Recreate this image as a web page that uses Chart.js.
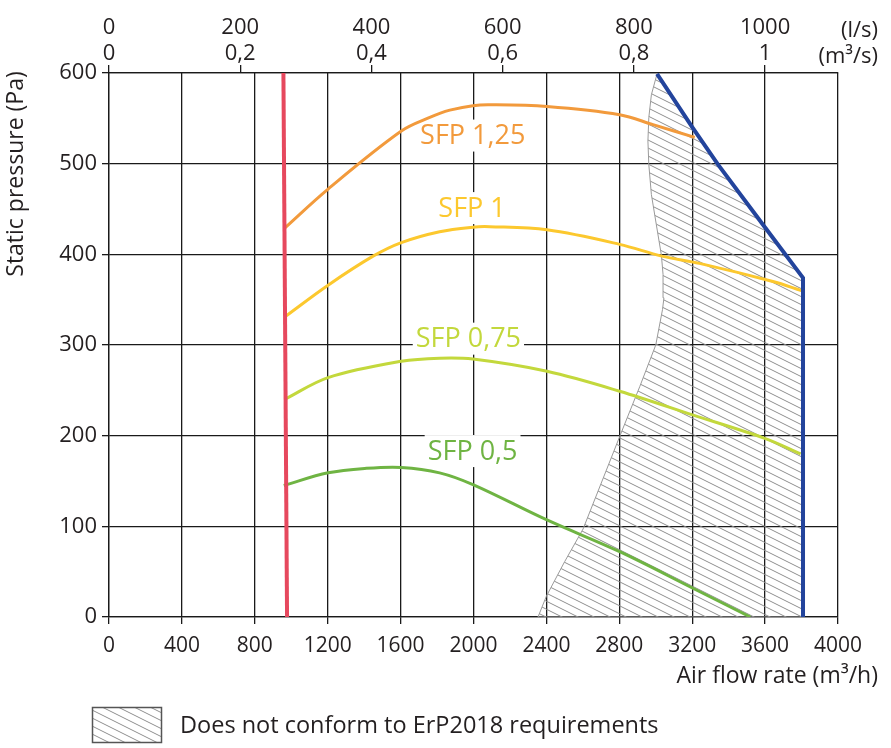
<!DOCTYPE html>
<html lang="en">
  <head>
    <meta charset="UTF-8" />
    <title>Static pressure vs air flow rate</title>
    <style>
      * {
        box-sizing: border-box;
        margin: 0;
        padding: 0;
      }
      body {
        background: #fff;
      }
      .wrap {
        width: 891px;
        height: 748px;
        position: relative;
      }
    </style>
  </head>
  <body>
    <div class="wrap"><canvas id="chart"></canvas></div>

    <script src="https://cdn.jsdelivr.net/npm/chart.js"></script>
    <script>
      // axis ticks
      const flowTicks = [0, 400, 800, 1200, 1600, 2000, 2400, 2800, 3200, 3600, 4000];
      const pressureTicks = [0, 100, 200, 300, 400, 500, 600];
      const lsTicks = [0, 200, 400, 600, 800, 1000];
      const m3sLabels = ["0", "0,2", "0,4", "0,6", "0,8", "1"];

      // curves: [m3/h, Pa]
      const sfp125 = [[964, 429], [1202, 472], [1604, 536], [1760, 551], [1870, 559], [1997, 564], [2089, 565], [2403, 563], [2802, 554], [2985, 543], [3214, 529]];
      const sfp100 = [[964, 331], [1202, 366], [1449, 398], [1604, 413], [1814, 425], [1997, 430], [2089, 430.5], [2403, 427], [2802, 411], [3033, 398], [3240, 390], [3643, 370], [3799, 360]];
      const sfp075 = [[964, 240], [1202, 264], [1604, 282], [1814, 285.5], [1997, 284.5], [2403, 271], [2802, 249], [3201, 223], [3598, 197], [3795, 180]];
      const sfp050 = [[959, 145], [1202, 159], [1412, 164], [1604, 165], [1814, 159], [1997, 146], [2403, 107], [2802, 72], [3201, 32], [3519, 0]];
      const minFlow = [[957, 600], [977, 0]];
      const maxFlow = [[3007, 599], [3201, 540], [3342, 499], [3602, 429], [3808, 374], [3808, 0]];
      const noErp = [[2354, 0], [2400, 23], [2500, 61], [2601, 97], [2802, 199], [2912, 254], [3000, 300], [3037, 339], [3045, 352], [3040, 378], [3031, 399], [3003, 433], [2976, 466], [2962, 499], [2957, 525], [2962, 551], [2976, 576], [3007, 599], [3201, 540], [3342, 499], [3602, 429], [3808, 374], [3808, 0], [2354, 0]];

      // curve labels and where they sit [m3/h, Pa]
      const sfpNames = ["SFP 1,25", "SFP 1", "SFP 0,75", "SFP 0,5"];
      const sfpNameAt = [[1996, 531], [1992, 451], [1972, 307], [1995, 183]];
      const sfpColors = ["#f29a3c", "#fcc82e", "#c3d83c", "#6fb443"];
      const legendText = "Does not conform to ErP2018 requirements";

      const FONT = "'Open Sans', sans-serif";
      const INK = "#231f20";

      const pts = (arr) => arr.map((p) => ({ x: p[0], y: p[1] }));

      function hatchPattern(ctx) {
        const c = document.createElement("canvas");
        c.width = 16;
        c.height = 8;
        const g = c.getContext("2d");
        g.strokeStyle = "#8e8e8e";
        g.lineWidth = 1;
        for (const off of [-8, 0, 8]) {
          g.beginPath();
          g.moveTo(-2, off - 1);
          g.lineTo(18, off + 9);
          g.stroke();
        }
        return ctx.createPattern(c, "repeat");
      }

      const canvas = document.getElementById("chart");
      const ctx = canvas.getContext("2d");
      const hatch = hatchPattern(ctx);

      const curve = (data, color, width) => ({
        data: pts(data),
        showLine: true,
        borderColor: color,
        borderWidth: width,
        pointRadius: 0,
        fill: false,
        tension: 0.35,
        order: 1,
      });

      const labelsPlugin = {
        id: "labels",
        beforeDatasetsDraw(chart) {
          const c = chart.ctx;
          const xs = chart.scales.x;
          const ys = chart.scales.y;
          c.save();
          c.font = "27px " + FONT;
          c.textAlign = "center";
          c.textBaseline = "middle";
          sfpNames.forEach((name, i) => {
            const x = xs.getPixelForValue(sfpNameAt[i][0]);
            const y = ys.getPixelForValue(sfpNameAt[i][1]);
            const w = c.measureText(name).width;
            c.fillStyle = "#fff";
            c.fillRect(x - w / 2 - 3, y - 16, w + 6, 32);
            c.fillStyle = sfpColors[i];
            c.fillText(name, x, y + 1);
          });
          c.restore();
        },
        afterDraw(chart) {
          const c = chart.ctx;
          c.save();
          c.fillStyle = INK;
          c.font = "23px " + FONT;

          // y title
          c.save();
          c.translate(16, 174);
          c.rotate(-Math.PI / 2);
          c.textAlign = "center";
          c.textBaseline = "middle";
          c.fillText("Static pressure (Pa)", 0, 0);
          c.restore();

          // x title
          c.textAlign = "right";
          c.textBaseline = "middle";
          c.fillText("Air flow rate (m³/h)", 878, 676);

          // top units
          c.font = "22px " + FONT;
          c.fillText("(l/s)", 878, 31);
          c.fillText("(m³/s)", 878, 57);

          // legend
          c.fillStyle = hatch;
          c.fillRect(92, 707, 70, 36);
          c.strokeStyle = "#555";
          c.lineWidth = 1.5;
          c.strokeRect(92.5, 707.5, 69, 35);
          c.fillStyle = INK;
          c.font = "23.5px " + FONT;
          c.textAlign = "left";
          c.fillText(legendText, 180, 726);
          c.restore();
        },
      };

      const gridStyle = {
        color: "#1a1a1a",
        lineWidth: 1.3,
        tickLength: 7,
      };

      new Chart(ctx, {
        type: "scatter",
        data: {
          datasets: [
            curve(sfp125, sfpColors[0], 3),
            curve(sfp100, sfpColors[1], 3),
            curve(sfp075, sfpColors[2], 3),
            curve(sfp050, sfpColors[3], 3),
            {
              data: pts(minFlow),
              showLine: true,
              borderColor: "#e6485e",
              borderWidth: 4,
              pointRadius: 0,
              tension: 0,
              order: 0,
            },
            {
              data: pts(maxFlow),
              showLine: true,
              borderColor: "#23449c",
              borderWidth: 4,
              pointRadius: 0,
              tension: 0,
              order: 0,
            },
            {
              data: pts(noErp),
              showLine: true,
              borderColor: "#9a9a9a",
              borderWidth: 1,
              backgroundColor: hatch,
              fill: "shape",
              pointRadius: 0,
              tension: 0,
              order: 10,
            },
          ],
        },
        options: {
          responsive: true,
          maintainAspectRatio: false,
          animation: false,
          layout: { padding: { left: 0, right: 53, top: 0, bottom: 0 } },
          plugins: {
            legend: { display: false },
            tooltip: { enabled: false },
          },
          scales: {
            x: {
              type: "linear",
              position: "bottom",
              min: 0,
              max: 4000,
              afterBuildTicks: (s) => {
                s.ticks = flowTicks.map((v) => ({ value: v }));
              },
              afterFit: (s) => {
                s.height = 131;
              },
              ticks: {
                color: INK,
                font: { family: FONT, size: 21 },
                padding: 9,
                maxRotation: 0,
                autoSkip: false,
                callback: (v) => String(v),
              },
              grid: gridStyle,
              border: { color: "#1a1a1a", width: 1.3 },
            },
            xTop: {
              type: "linear",
              position: "top",
              min: 0,
              max: 4000 / 3.6,
              afterBuildTicks: (s) => {
                s.ticks = lsTicks.map((v) => ({ value: v }));
              },
              afterFit: (s) => {
                s.height = 73;
              },
              ticks: {
                color: INK,
                font: { family: FONT, size: 22, lineHeight: 1.18 },
                padding: -2,
                maxRotation: 0,
                autoSkip: false,
                callback: (v, i) => [String(v), m3sLabels[i]],
              },
              grid: { drawOnChartArea: false, color: "#1a1a1a", lineWidth: 1.3, tickLength: 8 },
              border: { color: "#1a1a1a", width: 1.3 },
            },
            y: {
              min: 0,
              max: 600,
              afterBuildTicks: (s) => {
                s.ticks = pressureTicks.map((v) => ({ value: v }));
              },
              afterFit: (s) => {
                s.width = 109;
              },
              ticks: {
                color: INK,
                font: { family: FONT, size: 22 },
                padding: 5,
              },
              grid: gridStyle,
              border: { color: "#1a1a1a", width: 1.3 },
            },
          },
        },
        plugins: [labelsPlugin],
      });
    </script>
  </body>
</html>
